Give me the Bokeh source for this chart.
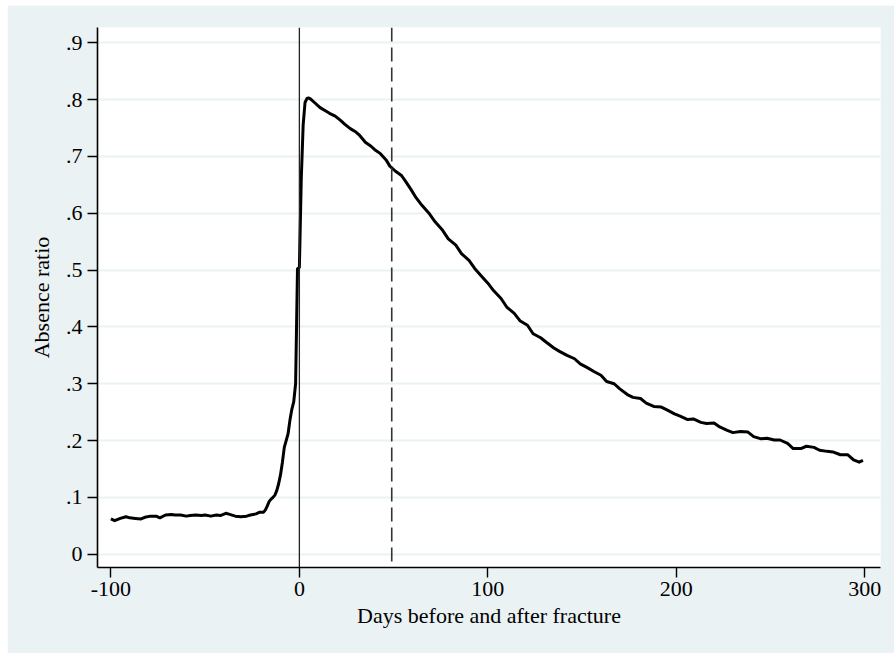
from bokeh.plotting import figure
from bokeh.models import Span, Range1d, FixedTicker, Spacer
from bokeh.layouts import column, row
from bokeh.embed import file_html
from bokeh.resources import INLINE

# Absence ratio by day relative to the fracture
days = [
    -100, -98, -95, -92, -90, -87, -84, -82, -79, -76, -74, -71, -68, -66,
    -63, -60, -58, -55, -52, -50, -47, -44, -42, -39, -37, -34, -31, -28,
    -26, -23, -21, -19, -18, -17, -16, -15, -14, -13, -12, -11, -10, -9,
    -8, -7, -6, -5, -4, -3, -2, -1, 0, 1, 2, 3, 4, 5, 6, 8, 11, 14, 16, 19,
    22, 24, 27, 30, 32, 35, 38, 40, 43, 46, 48, 51, 54, 56, 59, 62, 65, 69,
    72, 76, 79, 83, 86, 90, 93, 97, 100, 103, 107, 110, 114, 117, 121, 124,
    128, 131, 135, 138, 142, 146, 149, 153, 156, 160, 163, 167, 170, 174,
    177, 181, 184, 188, 192, 195, 199, 202, 206, 209, 213, 216, 220, 223,
    227, 230, 234, 238, 241, 245, 248, 252, 255, 259, 262, 266, 269, 273,
    276, 280, 283, 287, 291, 294, 297, 299,
]
ratio = [
    0.062, 0.059, 0.063, 0.066, 0.064, 0.063, 0.062, 0.065, 0.067, 0.067,
    0.064, 0.069, 0.070, 0.069, 0.069, 0.067, 0.068, 0.069, 0.068, 0.069,
    0.067, 0.069, 0.068, 0.072, 0.070, 0.067, 0.066, 0.067, 0.069, 0.071,
    0.074, 0.074, 0.078, 0.085, 0.093, 0.097, 0.100, 0.104, 0.112, 0.124,
    0.140, 0.162, 0.188, 0.200, 0.212, 0.236, 0.255, 0.268, 0.300, 0.502,
    0.505, 0.660, 0.755, 0.795, 0.802, 0.803, 0.801, 0.795, 0.786, 0.780,
    0.776, 0.771, 0.763, 0.757, 0.749, 0.743, 0.737, 0.725, 0.718, 0.712,
    0.705, 0.694, 0.683, 0.674, 0.667, 0.658, 0.643, 0.627, 0.614, 0.599,
    0.585, 0.570, 0.555, 0.544, 0.529, 0.517, 0.503, 0.488, 0.477, 0.464,
    0.450, 0.435, 0.424, 0.411, 0.403, 0.388, 0.381, 0.373, 0.363, 0.357,
    0.350, 0.344, 0.335, 0.328, 0.322, 0.315, 0.304, 0.300, 0.291, 0.281,
    0.276, 0.274, 0.266, 0.260, 0.259, 0.254, 0.247, 0.243, 0.237, 0.238,
    0.232, 0.230, 0.231, 0.224, 0.218, 0.214, 0.216, 0.215, 0.207, 0.203,
    0.204, 0.201, 0.201, 0.195, 0.186, 0.186, 0.190, 0.188, 0.183, 0.181,
    0.180, 0.175, 0.175, 0.166, 0.162, 0.165,
]

x_ticks = [-100, 0, 100, 200, 300]
x_tick_labels = ["-100", "0", "100", "200", "300"]
y_ticks = [0, 0.1, 0.2, 0.3, 0.4, 0.5, 0.6, 0.7, 0.8, 0.9]
y_tick_labels = ["0", ".1", ".2", ".3", ".4", ".5", ".6", ".7", ".8", ".9"]

fracture_day = 0
reference_day = 49

BG = "#EAF2F3"
FONT = "Liberation Serif"

p = figure(
    width=887, height=648,
    output_backend="svg", toolbar_location=None,
    x_range=Range1d(-107.1, 308.3), y_range=Range1d(-0.0234, 0.927),
    min_border_left=90, min_border_right=14,
    min_border_top=22, min_border_bottom=86,
)
p.background_fill_color = "white"
p.border_fill_color = BG
p.outline_line_color = None

p.xgrid.visible = False
p.ygrid.grid_line_color = BG
p.ygrid.grid_line_width = 2

p.xaxis.ticker = FixedTicker(ticks=x_ticks)
p.xaxis.major_label_overrides = dict(zip(x_ticks, x_tick_labels))
p.yaxis.ticker = FixedTicker(ticks=y_ticks)
p.yaxis.major_label_overrides = dict(zip(y_ticks, y_tick_labels))

for ax in (p.xaxis, p.yaxis):
    ax.axis_line_color = "black"
    ax.axis_line_width = 1.6
    ax.major_tick_line_color = "black"
    ax.major_tick_line_width = 1.4
    ax.major_tick_out = 10
    ax.major_tick_in = 0
    ax.minor_tick_out = 0
    ax.minor_tick_in = 0
    ax.major_label_text_font = FONT
    ax.major_label_text_font_size = "22px"
    ax.major_label_text_color = "black"
    ax.axis_label_text_font = FONT
    ax.axis_label_text_font_size = "22px"
    ax.axis_label_text_font_style = "normal"
    ax.axis_label_text_color = "black"

p.xaxis.axis_label = "Days before and after fracture"
p.yaxis.axis_label = "Absence ratio"
p.xaxis.major_label_standoff = 4
p.xaxis.axis_label_standoff = 4
p.yaxis.major_label_standoff = 5
p.yaxis.axis_label_standoff = 9
p.yaxis.major_label_orientation = "horizontal"

p.add_layout(Span(location=fracture_day, dimension="height",
                  line_color="#222222", line_width=1.3))
p.add_layout(Span(location=reference_day, dimension="height",
                  line_color="#333333", line_width=1.6, line_dash="14 6"))

p.line(days, ratio, line_color="black", line_width=3, line_join="round")

page = column(Spacer(height=5), row(Spacer(width=7), p))
open("out.html", "w").write(file_html(page, INLINE))
